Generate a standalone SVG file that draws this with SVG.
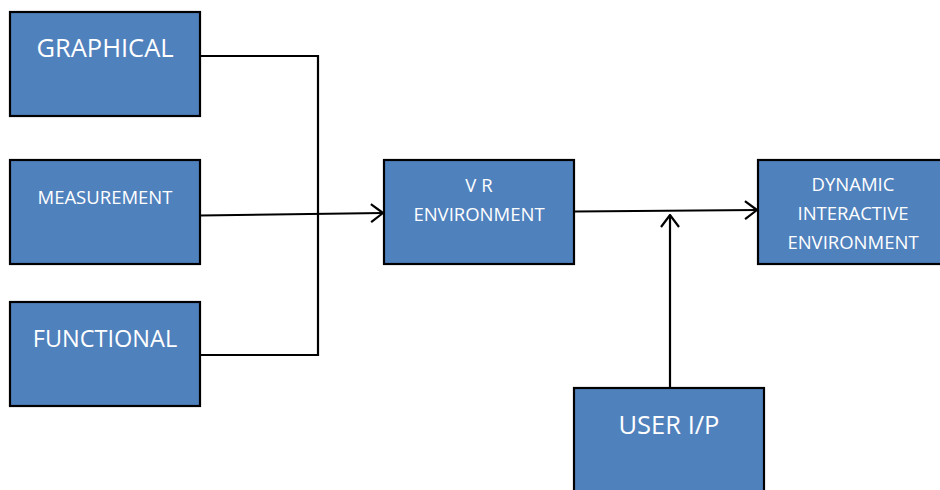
<svg xmlns="http://www.w3.org/2000/svg" width="940" height="490" viewBox="0 0 940 490">
  <style>
    .box { fill: #4F81BD; stroke: #000; stroke-width: 2.2; }
    .lbl { fill: #fff; font-family: "Open Sans", "Liberation Sans", sans-serif; text-anchor: middle; }
    .big { font-size: 25.5px; }
    .small { font-size: 18.5px; }
    .wire { fill: none; stroke: #000; stroke-width: 2.2; }
  </style>
  <defs>
    <marker id="arrow" viewBox="0 0 14 20" refX="13" refY="10" markerWidth="14" markerHeight="20" markerUnits="userSpaceOnUse" orient="auto">
      <polyline points="1,1 13,10 1,19" fill="none" stroke="#000" stroke-width="2.2"/>
    </marker>
  </defs>
  <rect width="940" height="490" fill="#fff"/>

  <g id="connectors">
    <polyline class="wire" points="200,56 318,56 318,355 200,355"/>
    <line class="wire" x1="200" y1="215.5" x2="383" y2="213" marker-end="url(#arrow)"/>
    <line class="wire" x1="575" y1="211.5" x2="757" y2="210" marker-end="url(#arrow)"/>
    <line class="wire" x1="670" y1="388" x2="670" y2="215" marker-end="url(#arrow)"/>
  </g>

  <g id="graphical">
    <rect class="box" x="10" y="12" width="190" height="104"/>
    <text class="lbl big" x="105" y="57">GRAPHICAL</text>
  </g>
  <g id="measurement">
    <rect class="box" x="10" y="160" width="190" height="104"/>
    <text class="lbl small" x="105" y="204">MEASUREMENT</text>
  </g>
  <g id="functional">
    <rect class="box" x="10" y="302" width="190" height="104"/>
    <text class="lbl big" x="105" y="347" style="font-size:23.5px">FUNCTIONAL</text>
  </g>
  <g id="vr-environment">
    <rect class="box" x="384" y="160" width="190" height="104"/>
    <text class="lbl small" x="479" y="192">V R</text>
    <text class="lbl small" x="479" y="221">ENVIRONMENT</text>
  </g>
  <g id="dynamic-interactive-environment">
    <rect class="box" x="758" y="160" width="190" height="104"/>
    <text class="lbl small" x="853" y="191">DYNAMIC</text>
    <text class="lbl small" x="853" y="220">INTERACTIVE</text>
    <text class="lbl small" x="853" y="249">ENVIRONMENT</text>
  </g>
  <g id="user-ip">
    <rect class="box" x="574" y="388" width="190" height="110"/>
    <text class="lbl big" x="669" y="434">USER I/P</text>
  </g>
</svg>
